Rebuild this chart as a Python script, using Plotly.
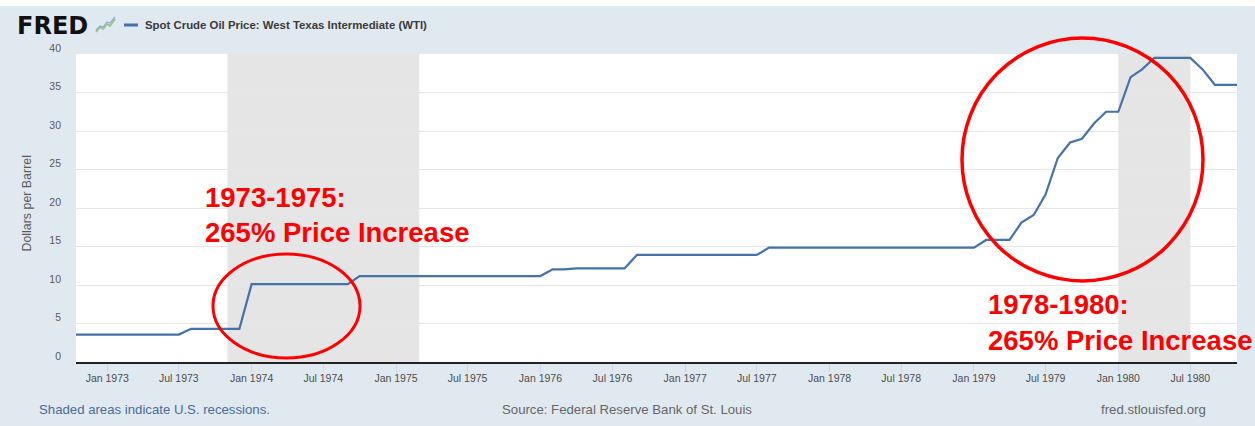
import pandas as pd
import plotly.graph_objects as go

# Monthly spot price of WTI crude, dollars per barrel (Oct 1972 - Nov 1980)
price_1972 = [3.56, 3.56, 3.56]
price_1973 = [3.56, 3.56, 3.56, 3.56, 3.56, 3.56, 3.56, 4.31, 4.31, 4.31, 4.31, 4.31]
price_1974 = [10.11, 10.11, 10.11, 10.11, 10.11, 10.11, 10.11, 10.11, 10.11, 11.16, 11.16, 11.16]
price_1975 = [11.16, 11.16, 11.16, 11.16, 11.16, 11.16, 11.16, 11.16, 11.16, 11.16, 11.16, 11.16]
price_1976 = [11.16, 12.03, 12.03, 12.17, 12.17, 12.17, 12.17, 12.17, 13.90, 13.90, 13.90, 13.90]
price_1977 = [13.90, 13.90, 13.90, 13.90, 13.90, 13.90, 13.90, 14.85, 14.85, 14.85, 14.85, 14.85]
price_1978 = [14.85, 14.85, 14.85, 14.85, 14.85, 14.85, 14.85, 14.85, 14.85, 14.85, 14.85, 14.85]
price_1979 = [14.85, 15.85, 15.85, 15.85, 18.10, 19.10, 21.75, 26.50, 28.50, 29.00, 31.00, 32.50]
price_1980 = [32.50, 37.00, 38.00, 39.50, 39.50, 39.50, 39.50, 38.00, 36.00, 36.00, 36.00]

prices = (price_1972 + price_1973 + price_1974 + price_1975 + price_1976
          + price_1977 + price_1978 + price_1979 + price_1980)
months = pd.date_range("1972-10-01", periods=len(prices), freq="MS")

# NBER recession periods (peak to trough)
recessions = [("1973-11-01", "1975-03-01"), ("1980-01-01", "1980-07-01")]

series_name = "Spot Crude Oil Price: West Texas Intermediate (WTI)"
y_title = "Dollars per Barrel"
y_ticks = [0, 5, 10, 15, 20, 25, 30, 35, 40]

FONT = "Liberation Sans, Arial, Helvetica, sans-serif"
W, H = 1255, 426
ML, MR, MT, MB = 76, 18, 54, 64
PW, PH = W - ML - MR, H - MT - MB


def px(x):
    """Pixel column -> paper x."""
    return (x - ML) / PW


def py(y):
    """Pixel row -> paper y."""
    return (H - MB - y) / PH


fig = go.Figure()
fig.add_trace(go.Scatter(
    x=months, y=prices, mode="lines", name=series_name,
    line=dict(color="#4572A7", width=2.2), showlegend=False,
))

shapes = []
for start, end in recessions:
    shapes.append(dict(type="rect", xref="x", yref="paper", x0=start, x1=end,
                       y0=0, y1=1, fillcolor="#e5e5e5", line_width=0, layer="below"))

# thin white strip along the top edge
shapes.append(dict(type="rect", xref="paper", yref="paper", x0=px(0), x1=px(W),
                   y0=py(0), y1=py(6), fillcolor="white", line_width=0))

# highlight ellipses
shapes.append(dict(type="circle", xref="paper", yref="paper",
                   x0=px(213), x1=px(360), y0=py(358), y1=py(254),
                   line=dict(color="#ff0000", width=3)))
shapes.append(dict(type="circle", xref="paper", yref="paper",
                   x0=px(962), x1=px(1203), y0=py(281), y1=py(38),
                   line=dict(color="#ff0000", width=3.5)))

# legend swatch in header
shapes.append(dict(type="line", xref="paper", yref="paper",
                   x0=px(124), x1=px(138), y0=py(25), y1=py(25),
                   line=dict(color="#4572A7", width=3)))

# small chart icon next to the logo
def icon_path(pts):
    return "M " + " L ".join(f"{px(a)},{py(b)}" for a, b in pts)

shapes.append(dict(type="path", xref="paper", yref="paper",
                   path=icon_path([(96, 32), (100, 27), (103, 29), (107, 24), (110, 26), (115, 19)]),
                   line=dict(color="#9bc48a", width=2)))
shapes.append(dict(type="path", xref="paper", yref="paper",
                   path=icon_path([(96, 30), (100, 26), (103, 27), (107, 22), (110, 23), (115, 17)]),
                   line=dict(color="#8fb0d0", width=1.2)))

annotations = []

# FRED logo
annotations.append(dict(text="<b>FRED</b>", xref="paper", yref="paper",
                        x=px(16), y=py(26), xanchor="left", yanchor="middle",
                        showarrow=False, borderpad=0,
                        font=dict(family="DejaVu Sans, sans-serif", size=24, color="#111111")))

annotations.append(dict(text=f"<b>{series_name}</b>", xref="paper", yref="paper",
                        x=px(144), y=py(25), xanchor="left", yanchor="middle",
                        showarrow=False, borderpad=0,
                        font=dict(family=FONT, size=11.4, color="#3a3a3a")))

annotations.append(dict(text=y_title, xref="paper", yref="paper",
                        x=px(26), y=py(203.5), xanchor="center", yanchor="middle",
                        textangle=-90, showarrow=False, borderpad=0,
                        font=dict(family=FONT, size=12.4, color="#595959")))

# callout text
red = dict(family=FONT, size=27.5, color="#ff0000")
for txt, x0, y0 in [("1973-1975:", 204, 197.5), ("265% Price Increase", 204, 232),
                    ("1978-1980:", 986.5, 304), ("265% Price Increase", 986.5, 340)]:
    annotations.append(dict(text=f"<b>{txt}</b>", xref="paper", yref="paper",
                            x=px(x0), y=py(y0), xanchor="left", yanchor="middle",
                            showarrow=False, borderpad=0, font=red))

# footer
foot = dict(family=FONT, size=13.2, color="#666666")
annotations.append(dict(text="Shaded areas indicate U.S. recessions.", xref="paper", yref="paper",
                        x=px(38), y=py(409), xanchor="left", yanchor="middle",
                        showarrow=False, borderpad=0,
                        font=dict(family=FONT, size=13.2, color="#4a6b98")))
annotations.append(dict(text="Source: Federal Reserve Bank of St. Louis", xref="paper", yref="paper",
                        x=px(627), y=py(409), xanchor="center", yanchor="middle",
                        showarrow=False, borderpad=0, font=foot))
annotations.append(dict(text="fred.stlouisfed.org", xref="paper", yref="paper",
                        x=px(1207), y=py(409), xanchor="right", yanchor="middle",
                        showarrow=False, borderpad=0, font=foot))

fig.update_layout(
    width=W, height=H,
    margin=dict(l=ML, r=MR, t=MT, b=MB, pad=0),
    paper_bgcolor="#e1e9f0",
    plot_bgcolor="#ffffff",
    font=dict(family=FONT, size=11, color="#595959"),
    shapes=shapes,
    annotations=annotations,
    showlegend=False,
)

fig.update_xaxes(
    range=["1972-10-14", "1980-10-27"],
    tick0="1973-01-01", dtick="M6", tickformat="%b %Y",
    ticks="outside", ticklen=8, tickcolor="#ccd6eb", tickwidth=1,
    ticklabelstandoff=-3,
    showgrid=False, zeroline=False,
    showline=True, linecolor="#222222", linewidth=2,
    tickfont=dict(family=FONT, size=10.5, color="#4d4d4d"),
)

fig.update_yaxes(
    range=[0, 40], tickvals=y_ticks,
    showgrid=True, gridcolor="#e6e6e6", gridwidth=1,
    zeroline=False, showline=False, ticks="",
    ticklabelstandoff=14, ticklabelshift=-6,
    tickfont=dict(family=FONT, size=10.5, color="#595959"),
)

fig.write_html("out.html")
